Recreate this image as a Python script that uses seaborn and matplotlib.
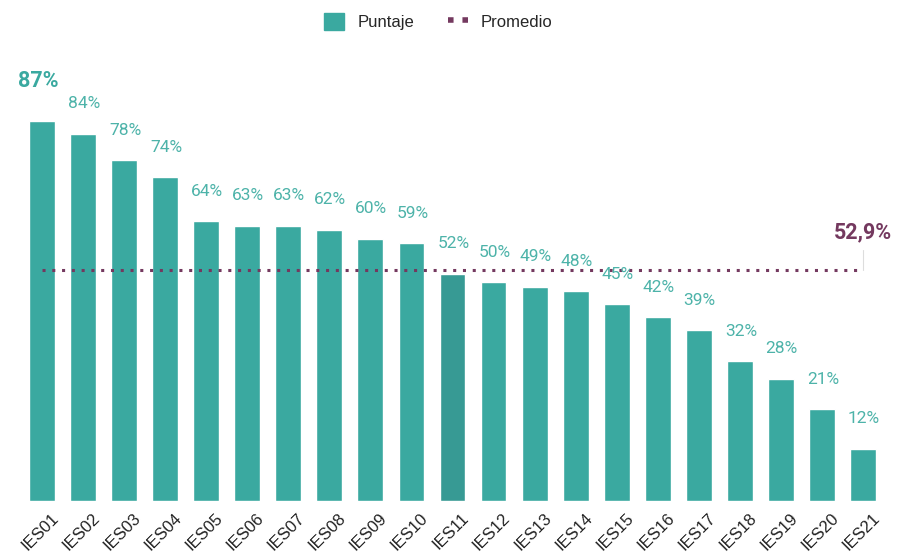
import matplotlib
matplotlib.use("Agg")
import matplotlib.pyplot as plt
import matplotlib.transforms as mtransforms
import seaborn as sns
import pandas as pd
from matplotlib.patches import Patch
from matplotlib.lines import Line2D

# ---------------------------------------------------
# DATA
# ---------------------------------------------------

ies = [f"IES{i:02d}" for i in range(1, 22)]
puntaje = [87, 84, 78, 74, 64, 63, 63, 62, 60, 59, 52, 50, 49, 48, 45, 42, 39, 32, 28, 21, 12]
promedio = 52.9

TEAL = "#3aa9a0"
TEAL_DARK = "#379a94"
LABEL_TEAL = "#4db3a9"
PURPLE = "#74395f"

df = pd.DataFrame({"ies": ies, "puntaje": puntaje})

sns.set_theme(style="white")
plt.rcParams["font.family"] = ["Roboto", "DejaVu Sans"]

fig = plt.figure(figsize=(9.04, 5.59), dpi=100)
ax = fig.add_axes([0.0238, 0.1038, 0.9535, 0.782])

colors = [TEAL_DARK if name == "IES11" else TEAL for name in ies]
sns.barplot(data=df, x="ies", y="puntaje", hue="ies", palette=colors,
            legend=False, width=0.63, ax=ax, saturation=1)

ax.set_xlim(-0.5, len(ies) - 0.5)
ax.set_ylim(0, 100)

# value labels
for i, v in enumerate(puntaje):
    if i == 0:
        ax.annotate(f"{v}%", (i, v), xytext=(-4, 40), textcoords="offset pixels",
                    ha="center", va="center", fontsize=15.5, fontweight="bold", color=TEAL)
    else:
        ax.annotate(f"{v}%", (i, v), xytext=(1, 30), textcoords="offset pixels",
                    ha="center", va="center", fontsize=12.5, color=LABEL_TEAL)

# average line
ax.plot([0, len(ies) - 1], [promedio, promedio], color=PURPLE,
        linestyle=(0, (1, 2.2)), linewidth=2.2, dash_capstyle="butt")
ax.plot([len(ies) - 1, len(ies) - 1], [promedio, promedio + 4.5], color="#dddddd", linewidth=0.8)
ax.annotate("52,9%", (len(ies) - 1, promedio), xytext=(0, 37), textcoords="offset pixels",
            ha="center", va="center", fontsize=15.5, fontweight="bold", color=PURPLE)

# axes styling
sns.despine(ax=ax, left=True, bottom=True)
ax.set_yticks([])
ax.set_xlabel("")
ax.set_ylabel("")
ax.tick_params(axis="x", length=0, pad=7)
shift = mtransforms.ScaledTranslation(9 / 100, 0, fig.dpi_scale_trans)
for lab in ax.get_xticklabels():
    lab.set_rotation(45)
    lab.set_ha("right")
    lab.set_rotation_mode("anchor")
    lab.set_fontsize(12)
    lab.set_color("#222222")
    lab.set_fontfamily(["Liberation Sans", "DejaVu Sans"])
    lab.set_transform(lab.get_transform() + shift)

# legend
handles = [
    Patch(facecolor=TEAL, edgecolor=TEAL),
    Line2D([0], [0], color=PURPLE, linestyle=(0, (1, 1.6)), linewidth=4, dash_capstyle="butt"),
]
fig.legend(handles, ["Puntaje", "Promedio"], loc="center", bbox_to_anchor=(0.485, 0.962),
           ncol=2, frameon=False, prop={"family": ["Liberation Sans", "DejaVu Sans"], "size": 12},
           handlelength=1.2, handleheight=1.2, columnspacing=2.0, handletextpad=0.8)

plt.savefig("out.png", dpi=100)
plt.close()
